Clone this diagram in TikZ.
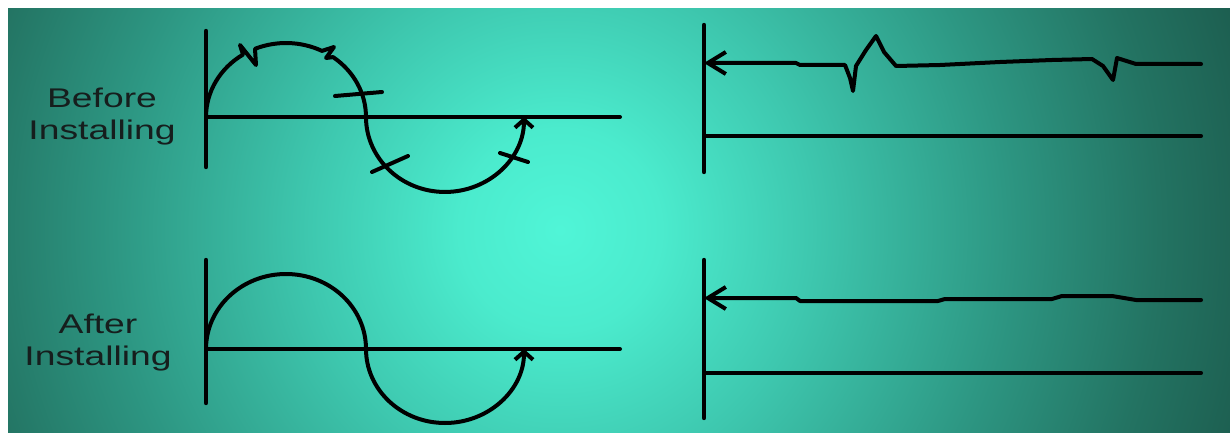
\documentclass[tikz,border=0pt]{standalone}
\usepackage{fontspec}
\setmainfont{Liberation Sans}
\newfontfamily\widesans{Liberation Sans}[FakeStretch=1.38]
\usetikzlibrary{arrows.meta}
\definecolor{textgray}{RGB}{22,30,29}
\pgfdeclareradialshading{glow}{\pgfpoint{0bp}{0bp}}{%
  rgb(0bp)=(0.314,0.961,0.843);
  rgb(3.5bp)=(0.294,0.922,0.804);
  rgb(8.7bp)=(0.243,0.784,0.686);
  rgb(15.6bp)=(0.176,0.588,0.510);
  rgb(20.8bp)=(0.137,0.451,0.384);
  rgb(25bp)=(0.110,0.361,0.306);
  rgb(50bp)=(0.110,0.361,0.306)}

\begin{document}
\begin{tikzpicture}[x=0.5pt, y=-0.5pt,
    ink/.style={line width=2pt, line cap=round, line join=round, black},
    axisline/.style={ink, line width=2.2pt},
    sidetext/.style={font=\widesans\fontsize{13.5}{16}\selectfont, align=center, text=textgray},
    >={Straight Barb[length=4pt,width=9pt]}]
    \useasboundingbox (0,0) rectangle (1230,433);
    \fill[white] (0,0) rectangle (1230,433);
    \begin{scope}
      \clip (8,9) rectangle (1230,433);
      \shade[shading=glow] (560,230) circle (720);
    \end{scope}

    % labels
    \node[sidetext] (before) at (102,117) {Before\\Installing};
    \node[sidetext] (after) at (98,343) {After\\Installing};

    % before, voltage
    \draw[axisline] (206,31) -- (206,167);
    \draw[ink] (206,117) -- (620,117);
    \draw[ink,->] (206,117) arc[start angle=180, end angle=237.5, x radius=80, y radius=74]
      -- (240,45) -- (256,65) -- (255,48.8)
      arc[start angle=247.2, end angle=296.7, x radius=80, y radius=74]
      -- (334,47) -- (326,58) -- (333,57.1)
      arc[start angle=306, end angle=360, x radius=80, y radius=74]
      arc[start angle=180, end angle=0, x radius=79, y radius=75];
    \draw[ink] (335,96) -- (382,92);
    \draw[ink] (372,172) -- (408,156);
    \draw[ink] (500,153) -- (528,162);

    % before, current
    \draw[axisline] (704,25) -- (704,172);
    \draw[ink] (704,136) -- (1201,136);
    \draw[ink, <-, >={Straight Barb[length=9pt,width=11pt]}] (704,63) -- (796,63) -- (800,65)
      -- (845,65) -- (850,78) -- (853,91) -- (856,66) -- (866,50) -- (876,36) -- (884,52)
      -- (896,66) -- (940,65) -- (1000,62) -- (1052,60) -- (1092,59) -- (1103,66)
      -- (1113,80) -- (1117,58) -- (1136,64) -- (1201,64);

    % after, voltage
    \draw[axisline] (206,260) -- (206,403);
    \draw[ink] (206,349) -- (620,349);
    \draw[ink,->] (206,349) arc[start angle=180, end angle=360, x radius=80, y radius=75]
      arc[start angle=180, end angle=0, x radius=79, y radius=74];

    % after, current
    \draw[axisline] (704,260) -- (704,418);
    \draw[ink] (704,373) -- (1201,373);
    \draw[ink, <-, >={Straight Barb[length=9pt,width=11pt]}] (704,298) -- (796,298) -- (800,301)
      -- (938,301) -- (945,299) -- (1052,299) -- (1062,296) -- (1112,296) -- (1136,300)
      -- (1201,300);
  \end{tikzpicture}
\end{document}
